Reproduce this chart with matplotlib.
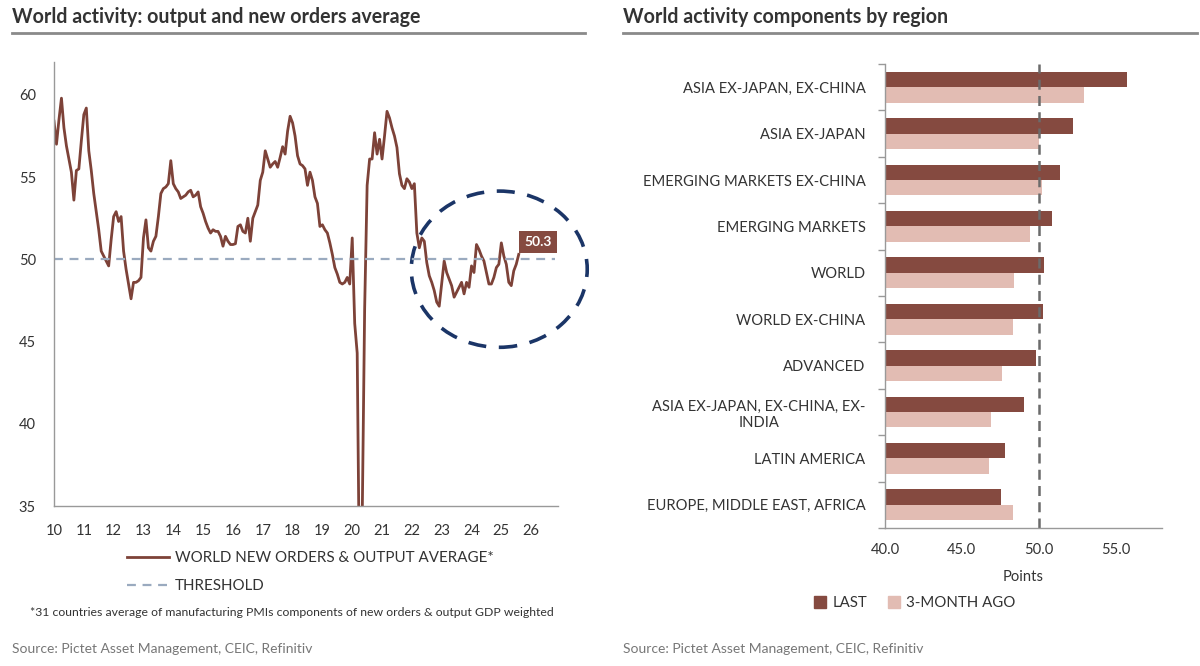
import numpy as np
import matplotlib
matplotlib.use("Agg")
import matplotlib.pyplot as plt
from matplotlib.patches import Ellipse
from matplotlib.lines import Line2D
from matplotlib.patches import Patch

plt.rcParams['font.family'] = ['Lato', 'DejaVu Sans']

# ---- left chart: monthly series, Jan 2010 onward ----
start_year = 2010
pmi_avg = [
    # 2010
    58.4, 57.0, 58.5, 59.8, 58.0, 56.9, 56.1, 55.3, 53.6, 55.4, 55.5, 57.2,
    # 2011
    58.8, 59.2, 56.6, 55.4, 54.0, 52.9, 51.8, 50.5, 50.2, 49.9, 49.6, 51.2,
    # 2012
    52.6, 52.9, 52.3, 52.6, 50.5, 49.4, 48.5, 47.6, 48.6, 48.6, 48.7, 48.9,
    # 2013
    51.3, 52.4, 50.7, 50.5, 51.1, 51.4, 52.6, 54.0, 54.3, 54.4, 54.6, 56.0,
    # 2014
    54.6, 54.3, 54.1, 53.7, 53.8, 53.9, 54.1, 54.2, 53.8, 53.9, 54.1, 53.2,
    # 2015
    52.8, 52.3, 51.9, 51.6, 51.8, 51.7, 51.7, 51.4, 50.8, 51.4, 51.1, 50.9,
    # 2016
    50.9, 50.95, 52.0, 52.1, 51.7, 51.6, 52.5, 51.1, 52.5, 52.9, 53.3, 54.8,
    # 2017
    55.3, 56.6, 56.1, 55.6, 55.8, 55.95, 55.6, 56.2, 56.85, 56.4, 57.8, 58.7,
    # 2018
    58.3, 57.5, 56.3, 55.8, 55.7, 55.5, 54.5, 55.3, 54.8, 53.8, 53.4, 52.0,
    # 2019
    52.1, 51.8, 51.6, 51.0, 50.3, 49.5, 49.1, 48.6, 48.5, 48.6, 48.9, 48.5,
    # 2020
    51.3, 46.1, 44.3, 29.0, 34.0, 47.0, 54.5, 56.1, 56.1, 57.7, 56.4, 57.3,
    # 2021
    56.1, 57.5, 59.0, 58.6, 58.0, 57.5, 56.8, 55.2, 54.5, 54.3, 54.9, 54.7,
    # 2022
    54.3, 54.6, 51.6, 50.7, 51.3, 51.1, 49.8, 49.0, 48.6, 48.1, 47.4, 47.15,
    # 2023
    48.5, 49.9, 49.2, 48.8, 48.4, 47.7, 48.0, 48.3, 48.6, 47.9, 48.6, 48.3,
    # 2024
    49.6, 49.2, 50.9, 50.6, 50.2, 49.9, 49.2, 48.5, 48.5, 48.9, 49.5, 49.7,
    # 2025
    51.0, 50.2, 49.7, 48.6, 48.4, 49.3, 49.7, 50.3,
]
threshold = 50
year_ticks = list(range(2010, 2027))
year_labels = [str(y % 100) for y in year_ticks]

# ---- right chart: region components ----
regions = [
    "ASIA EX-JAPAN, EX-CHINA",
    "ASIA EX-JAPAN",
    "EMERGING MARKETS EX-CHINA",
    "EMERGING MARKETS",
    "WORLD",
    "WORLD EX-CHINA",
    "ADVANCED",
    "ASIA EX-JAPAN, EX-CHINA, EX-\nINDIA",
    "LATIN AMERICA",
    "EUROPE, MIDDLE EAST, AFRICA",
]
last = [55.7, 52.2, 51.4, 50.85, 50.3, 50.25, 49.8, 49.0, 47.8, 47.55]
three_month_ago = [52.9, 50.0, 50.2, 49.4, 48.4, 48.35, 47.6, 46.9, 46.75, 48.35]

BROWN = '#7d4238'
LAST_C = '#854a40'
AGO_C = '#e2bcb3'
THRESH_C = '#9aaabf'
NAVY = '#1b3567'
GREY = '#999999'
TXT = '#333333'

fig = plt.figure(figsize=(12, 6.66), dpi=100)

# titles with underline
fig.text(12 / 1200, 1 - 17 / 666, "World activity: output and new orders average",
         fontsize=14.1, fontweight='bold', color='#333333', va='center', ha='left')
fig.text(623 / 1200, 1 - 17 / 666, "World activity components by region",
         fontsize=14.1, fontweight='bold', color='#333333', va='center', ha='left')
for x0, x1 in [(12, 585), (623, 1197)]:
    fig.add_artist(Line2D([x0 / 1200, x1 / 1200], [1 - 33 / 666, 1 - 33 / 666],
                          color='#8a8a8a', lw=2))

# ---------------- left chart ----------------
ax = fig.add_axes([54 / 1200, 1 - 506 / 666, (558 - 54) / 1200, (506 - 62) / 666])
x = start_year + np.arange(len(pmi_avg)) / 12.0
ax.plot(x, pmi_avg, color=BROWN, lw=2, label="WORLD NEW ORDERS & OUTPUT AVERAGE*",
        solid_joinstyle='round')
ax.axhline(threshold, color=THRESH_C, lw=1.6, ls=(0, (4, 3)), label="THRESHOLD",
           xmax=0.995)
ax.set_xlim(2010, 2026.9)
ax.set_ylim(35, 62)
ax.set_xticks(year_ticks)
ax.set_xticklabels(year_labels)
ax.set_yticks([35, 40, 45, 50, 55, 60])
ax.tick_params(axis='x', length=0, labelsize=10.5, colors=TXT, pad=13)
ax.tick_params(axis='y', length=0, labelsize=10.5, colors=TXT, pad=13)
for s in ['top', 'right']:
    ax.spines[s].set_visible(False)
for s in ['left', 'bottom']:
    ax.spines[s].set_color(GREY)
    ax.spines[s].set_linewidth(1)

ell = Ellipse((2024.93, 49.4), 5.9, 9.5, fill=False, ec=NAVY, lw=2.6,
              ls=(0, (5, 3.5)), clip_on=False)
ax.add_patch(ell)

ax.annotate(f"{pmi_avg[-1]:.1f}", xy=(x[-1], pmi_avg[-1]), xytext=(4, 9),
            textcoords='offset points', ha='left', va='center', fontsize=10,
            fontweight='bold', color='white',
            bbox=dict(boxstyle='square,pad=0.38', fc=LAST_C, ec='none'))

handles, labels = ax.get_legend_handles_labels()
fig.legend(handles, labels, loc='center left', bbox_to_anchor=(113 / 1200, 1 - 572 / 666),
           frameon=False, fontsize=10.9, handlelength=2.8, labelspacing=0.9,
           handletextpad=0.4, labelcolor=TXT)

fig.text(30 / 1200, 1 - 612 / 666,
         "*31 countries average of manufacturing PMIs components of new orders & output GDP weighted",
         fontsize=8.8, color=TXT, va='center', ha='left')

# ---------------- right chart ----------------
ax2 = fig.add_axes([885 / 1200, 1 - 528 / 666, (1162 - 885) / 1200, (528 - 64) / 666])
pos = np.arange(len(regions))
h = 0.33
ax2.barh(pos - h / 2, [v - 40 for v in last], left=40, height=h, color=LAST_C, label="LAST")
ax2.barh(pos + h / 2, [v - 40 for v in three_month_ago], left=40, height=h, color=AGO_C,
         label="3-MONTH AGO")
ax2.axvline(threshold, color='#6b6b6b', lw=1.8, ls=(0, (4, 2.5)))
ax2.set_xlim(40, 58)
ax2.set_ylim(len(regions) - 0.5, -0.5)
ax2.set_yticks(pos)
ax2.set_yticklabels(regions)
for lbl in ax2.get_yticklabels():
    lbl.set_multialignment('center')
ax2.set_yticks(np.arange(len(regions) + 1) - 0.5, minor=True)
ax2.tick_params(axis='y', which='major', length=0, pad=14, labelsize=10.6, colors=TXT)
ax2.tick_params(axis='y', which='minor', length=5, color=GREY, width=1)
ax2.set_xticks([40, 45, 50, 55])
ax2.set_xticklabels(["40.0", "45.0", "50.0", "55.0"])
ax2.tick_params(axis='x', length=0, labelsize=10.6, colors=TXT, pad=11)
ax2.set_xlabel("Points", fontsize=10.6, color=TXT, labelpad=9)
for s in ['top', 'right']:
    ax2.spines[s].set_visible(False)
for s in ['left', 'bottom']:
    ax2.spines[s].set_color(GREY)
    ax2.spines[s].set_linewidth(1)

h2, l2 = ax2.get_legend_handles_labels()
fig.legend([Patch(color=LAST_C), Patch(color=AGO_C)], l2, loc='center',
           bbox_to_anchor=(915 / 1200, 1 - 603 / 666), ncol=2, frameon=False,
           fontsize=10.8, handlelength=0.8, handleheight=0.8, handletextpad=0.4,
           columnspacing=1.4, labelcolor=TXT)

# sources
for x0 in (12, 623):
    fig.text(x0 / 1200, 1 - 649 / 666, "Source: Pictet Asset Management, CEIC, Refinitiv",
             fontsize=10, color='#777777', va='center', ha='left')

fig.savefig("out.png", dpi=100)
